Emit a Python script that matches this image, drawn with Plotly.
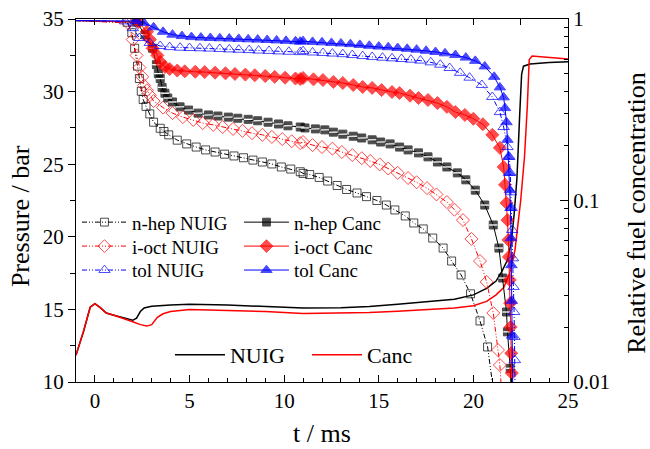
import plotly.graph_objects as go

# ---------------- data ----------------
# Pressure traces (left axis, bar)
P_NUIG_T = [-1.0, -0.6, -0.25, 0.0, 0.3, 0.6, 1.0, 1.5, 2.0, 2.2, 2.4, 2.6, 3.0, 4.0, 5.0, 7.0, 9.0,
            11.0, 13.0, 14.5, 16.0, 18.0, 19.0, 20.0, 20.7, 21.2, 21.5, 21.8, 22.0, 22.15, 22.3,
            22.45, 22.55, 22.65, 23.0, 24.0, 25.0]
P_NUIG = [11.85, 13.5, 15.15, 15.4, 15.1, 14.75, 14.6, 14.45, 14.25, 14.4, 14.85, 15.1, 15.22, 15.3,
          15.35, 15.3, 15.2, 15.1, 15.12, 15.2, 15.35, 15.55, 15.7, 16.0, 16.45, 16.95, 17.6, 18.4,
          19.6, 21.5, 24.0, 28.5, 31.2, 31.75, 31.9, 32.0, 32.05]

P_CANC_T = [-1.0, -0.6, -0.25, 0.0, 0.3, 0.6, 1.0, 1.5, 2.0, 2.4, 2.75, 3.0, 3.3, 3.6, 4.0, 5.0, 7.0,
            9.0, 11.0, 13.0, 14.5, 16.0, 18.0, 19.0, 20.0, 20.7, 21.2, 21.6, 21.9, 22.2, 22.5, 22.7,
            22.85, 22.95, 23.1, 24.0, 25.0]
P_CANC = [11.85, 13.5, 15.15, 15.4, 15.1, 14.75, 14.6, 14.4, 14.15, 13.95, 13.85, 13.95, 14.45, 14.7,
          14.85, 15.0, 14.95, 14.85, 14.72, 14.73, 14.78, 14.88, 15.0, 15.1, 15.25, 15.55, 16.0,
          16.5, 17.4, 19.1, 22.5, 25.5, 29.0, 32.2, 32.45, 32.35, 32.25]

# Relative fuel concentration (right axis, log)
NHEP_NUIG_T = [-1.0, 1.7, 1.95, 2.1, 2.25, 2.35, 2.45, 2.55, 2.7, 2.9, 3.1, 3.45, 3.65, 3.9, 4.35,
               4.85, 5.35, 5.85, 6.35, 6.85, 7.35, 7.85, 8.35, 8.85, 9.35, 9.85, 10.35, 10.85, 11.0,
               11.35, 11.85, 12.3, 12.8, 13.3, 13.85, 14.35, 14.9, 15.4, 15.85, 16.4, 16.85, 17.35,
               17.85, 18.4, 18.85, 19.35, 19.85, 20.35, 20.75, 21.2]
NHEP_NUIG_C = [0.98, 0.96, 0.84, 0.69, 0.55, 0.47, 0.40, 0.36, 0.33, 0.30, 0.27, 0.25, 0.24, 0.23,
               0.215, 0.205, 0.197, 0.19, 0.185, 0.18, 0.176, 0.172, 0.167, 0.163, 0.159, 0.153,
               0.149, 0.144, 0.141, 0.139, 0.134, 0.128, 0.121, 0.115, 0.110, 0.105, 0.100, 0.0944,
               0.0887, 0.0822, 0.0752, 0.0697, 0.0621, 0.0547, 0.0464, 0.0389, 0.0306, 0.0217,
               0.0156, 0.007]

IOCT_NUIG_T = [-1.0, 1.75, 2.0, 2.2, 2.35, 2.5, 2.6, 2.75, 2.9, 3.1, 3.6, 4.1, 4.65, 5.2, 5.7, 6.25,
               6.75, 7.3, 7.8, 8.3, 8.85, 9.35, 9.9, 10.4, 10.85, 11.0, 11.5, 12.0, 12.55, 13.05,
               13.6, 14.1, 14.55, 15.05, 15.5, 16.0, 16.55, 17.0, 17.55, 18.05, 18.6, 19.0, 19.45,
               19.9, 20.35, 20.7, 21.05, 21.3, 21.4, 21.55]
IOCT_NUIG_C = [0.98, 0.95, 0.77, 0.63, 0.54, 0.48, 0.43, 0.405, 0.38, 0.353, 0.325, 0.303, 0.288,
               0.278, 0.267, 0.261, 0.254, 0.248, 0.242, 0.235, 0.230, 0.224, 0.218, 0.212, 0.207,
               0.210, 0.202, 0.197, 0.193, 0.185, 0.178, 0.171, 0.165, 0.158, 0.150, 0.142, 0.133,
               0.126, 0.117, 0.108, 0.098, 0.089, 0.078, 0.0614, 0.0464, 0.0356, 0.024, 0.015,
               0.0124, 0.007]

TOL_NUIG_T = [-1.0, 1.6, 2.0, 2.35, 2.9, 3.45, 3.95, 4.5, 5.0, 5.55, 6.05, 6.6, 7.1, 7.6, 8.15, 8.65,
              9.2, 9.7, 10.25, 10.85, 11.0, 11.5, 12.05, 12.55, 13.1, 13.6, 14.15, 14.65, 15.2, 15.7,
              16.2, 16.7, 17.2, 17.75, 18.25, 18.75, 19.3, 19.8, 20.45, 21.0, 21.4, 21.6, 21.8, 21.9,
              21.95, 21.98, 22.02, 22.05, 22.09, 22.12, 22.15, 22.17, 22.19, 22.22]
TOL_NUIG_C = [0.98, 0.97, 0.89, 0.786, 0.738, 0.71, 0.70, 0.695, 0.692, 0.69, 0.687, 0.684, 0.68,
              0.677, 0.674, 0.67, 0.667, 0.663, 0.66, 0.657, 0.665, 0.654, 0.65, 0.645, 0.64, 0.633,
              0.625, 0.618, 0.612, 0.607, 0.602, 0.597, 0.59, 0.577, 0.56, 0.537, 0.505, 0.475,
              0.433, 0.372, 0.307, 0.254, 0.197, 0.174, 0.142, 0.111, 0.091, 0.0688, 0.048, 0.0334,
              0.0243, 0.0177, 0.0132, 0.006]

NHEP_CANC_T = [-1.0, 2.2, 2.65, 3.05, 3.25, 3.35, 3.45, 3.55, 3.7, 3.85, 4.1, 4.5, 4.95, 5.45, 6.0,
               6.5, 7.05, 7.55, 8.1, 8.6, 9.15, 9.7, 10.2, 10.85, 11.1, 11.65, 12.15, 12.6, 13.1,
               13.65, 14.1, 14.65, 15.1, 15.6, 16.1, 16.55, 17.1, 17.6, 18.1, 18.6, 19.15, 19.6,
               20.1, 20.6, 21.05, 21.35, 21.55, 21.75, 21.8, 21.95, 22.05]
NHEP_CANC_C = [0.98, 0.96, 0.82, 0.69, 0.56, 0.50, 0.47, 0.42, 0.39, 0.367, 0.349, 0.328, 0.315,
               0.303, 0.296, 0.292, 0.288, 0.284, 0.280, 0.275, 0.270, 0.264, 0.258, 0.254, 0.251,
               0.248, 0.245, 0.238, 0.232, 0.226, 0.221, 0.216, 0.210, 0.205, 0.197, 0.190, 0.183,
               0.174, 0.163, 0.153, 0.142, 0.130, 0.114, 0.0944, 0.0733, 0.0547, 0.0374, 0.0243,
               0.0189, 0.0119, 0.006]

IOCT_CANC_T = [-1.0, 2.3, 2.75, 2.9, 3.05, 3.3, 3.45, 3.7, 3.95, 4.35, 4.75, 5.3, 5.8, 6.35, 6.9,
               7.4, 7.95, 8.45, 9.0, 9.5, 10.05, 10.6, 10.85, 11.0, 11.55, 12.05, 12.6, 13.1, 13.65,
               14.15, 14.65, 15.15, 15.7, 16.1, 16.65, 17.1, 17.6, 18.1, 18.6, 19.05, 19.55, 20.0,
               20.5, 21.0, 21.4, 21.6, 21.67, 21.75, 21.8, 21.85, 21.88, 21.92, 21.94, 21.97, 22.0,
               22.03, 22.1]
IOCT_CANC_C = [0.98, 0.96, 0.85, 0.77, 0.69, 0.63, 0.58, 0.544, 0.53, 0.52, 0.515, 0.512, 0.51,
               0.506, 0.502, 0.498, 0.494, 0.49, 0.485, 0.48, 0.475, 0.47, 0.467, 0.473, 0.465,
               0.461, 0.45, 0.444, 0.433, 0.422, 0.417, 0.406, 0.396, 0.391, 0.378, 0.367, 0.358,
               0.344, 0.328, 0.307, 0.296, 0.282, 0.263, 0.23, 0.195, 0.153, 0.122, 0.097, 0.078,
               0.0606, 0.0489, 0.0365, 0.0272, 0.0201, 0.0144, 0.0112, 0.006]

TOL_CANC_T = [-1.0, 2.2, 2.6, 3.1, 3.6, 4.1, 4.6, 5.1, 5.6, 6.1, 6.6, 7.1, 7.6, 8.1, 8.6, 9.1, 9.6,
              10.1, 10.6, 10.85, 11.0, 11.5, 12.0, 12.5, 13.0, 13.5, 14.0, 14.5, 15.0, 15.5, 16.0,
              16.5, 17.0, 17.5, 18.0, 18.5, 19.05, 19.6, 20.1, 20.6, 21.1, 21.4, 21.6, 21.67, 21.75,
              21.8, 21.85, 21.89, 21.93, 21.96, 21.99, 22.01, 22.03, 22.05, 22.1]
TOL_CANC_C = [0.98, 0.975, 0.95, 0.9, 0.85, 0.82, 0.805, 0.795, 0.79, 0.786, 0.783, 0.78, 0.777,
              0.773, 0.77, 0.766, 0.762, 0.758, 0.754, 0.75, 0.755, 0.748, 0.744, 0.738, 0.733,
              0.727, 0.72, 0.712, 0.705, 0.699, 0.692, 0.685, 0.678, 0.668, 0.658, 0.647, 0.633,
              0.613, 0.588, 0.548, 0.48, 0.42, 0.37, 0.323, 0.27, 0.216, 0.174, 0.142, 0.114,
              0.091, 0.062, 0.044, 0.028, 0.018, 0.006]

X_TICKS = [0, 5, 10, 15, 20, 25]
Y_TICKS = [10, 15, 20, 25, 30, 35]
C_TICKS = [0.01, 0.1, 1]
C_TICK_TEXT = ["0.01", "0.1", "1"]
C_MINOR = [0.02, 0.03, 0.04, 0.05, 0.06, 0.07, 0.08, 0.09,
           0.2, 0.3, 0.4, 0.5, 0.6, 0.7, 0.8, 0.9]
X_TITLE = "t / ms"
Y_TITLE = "Pressure / bar"
Y2_TITLE = "Relative fuel concentration"

# ---------------- styling ----------------
FONT = "Liberation Serif, Times New Roman, serif"
BLACK = "#000000"
RED = "#ff0000"
BLUE = "#0000ff"
DASHDOT = "5px,2px,1px,2px,1px,2px"

fig = go.Figure()


def fuel(t, c, name, color, symbol, dash, legend, size=8):
    sizes = [0] + [size] * (len(t) - 1)
    fig.add_trace(go.Scatter(
        x=t, y=c, name=name, mode="lines+markers", xaxis="x", yaxis="y2",
        line=dict(color=color, width=1, dash=dash),
        marker=dict(symbol=symbol, size=sizes, color=color, line=dict(color=color, width=1)),
        legend=legend,
    ))


fuel(NHEP_NUIG_T, NHEP_NUIG_C, "n-hep NUIG", BLACK, "square-open", DASHDOT, "legend", 8)
fuel(NHEP_CANC_T, NHEP_CANC_C, "n-hep Canc", BLACK, "square", "solid", "legend", 8)
# white stripe across the filled squares (half-filled look)
fig.add_trace(go.Scatter(
    x=NHEP_CANC_T[1:], y=NHEP_CANC_C[1:], mode="markers", xaxis="x", yaxis="y2",
    marker=dict(symbol="line-ew", size=6, color="white", line=dict(color="white", width=1.3)),
    showlegend=False, hoverinfo="skip"))
fuel(IOCT_NUIG_T, IOCT_NUIG_C, "i-oct NUIG", RED, "diamond-open", DASHDOT, "legend2", 10)
fuel(IOCT_CANC_T, IOCT_CANC_C, "i-oct Canc", RED, "diamond", "solid", "legend2", 10)
fuel(TOL_NUIG_T, TOL_NUIG_C, "tol NUIG", BLUE, "triangle-up-open", DASHDOT, "legend3", 10)
fuel(TOL_CANC_T, TOL_CANC_C, "tol Canc", BLUE, "triangle-up", "solid", "legend3", 10)

fig.add_trace(go.Scatter(x=P_NUIG_T, y=P_NUIG, name="NUIG", mode="lines",
                         line=dict(color=BLACK, width=1.5), legend="legend4"))
fig.add_trace(go.Scatter(x=P_CANC_T, y=P_CANC, name="Canc", mode="lines",
                         line=dict(color=RED, width=1.5), legend="legend4"))
# empty trace so the top (mirror) axis is drawn
fig.add_trace(go.Scatter(x=[None], y=[None], xaxis="x2", yaxis="y", showlegend=False,
                         hoverinfo="skip"))

axis_common = dict(showline=True, linecolor=BLACK, linewidth=1.3, showgrid=False, zeroline=False,
                   tickcolor=BLACK, tickwidth=1.2, automargin=False)


def leg(x, y, ew, iw, fs):
    return dict(orientation="h", x=x, y=y, xanchor="left", yanchor="middle", xref="paper",
                yref="paper", entrywidth=ew, entrywidthmode="pixels", itemwidth=iw,
                font=dict(family=FONT, size=fs, color=BLACK), bgcolor="rgba(0,0,0,0)",
                borderwidth=0, tracegroupgap=0)


fig.update_layout(
    width=650, height=449,
    margin=dict(l=76, r=82, t=19, b=67, autoexpand=False),
    paper_bgcolor="white", plot_bgcolor="white",
    font=dict(family=FONT, size=21, color=BLACK),
    showlegend=True,
    xaxis=dict(range=[-1, 25], tickvals=X_TICKS, ticks="inside", ticklen=7,
               minor=dict(ticks="inside", dtick=1, tick0=0, ticklen=4, tickcolor=BLACK, tickwidth=1),
               title=dict(text=X_TITLE, font=dict(size=26), standoff=11), **axis_common),
    xaxis2=dict(range=[-1, 25], overlaying="x", side="top", anchor="y", dtick=2.5, tick0=0,
                ticks="inside", ticklen=6, showticklabels=False, **axis_common),
    yaxis=dict(range=[10, 35], tickvals=Y_TICKS, ticks="outside", ticklen=7,
               minor=dict(ticks="outside", dtick=2.5, tick0=10, ticklen=5, tickcolor=BLACK, tickwidth=1),
               **axis_common),
    yaxis2=dict(type="log", range=[-2, 0], overlaying="y", side="right", anchor="x",
                tickvals=C_TICKS, ticktext=C_TICK_TEXT, ticks="inside", ticklen=8,
                minor=dict(ticks="inside", tickvals=C_MINOR, ticklen=4, tickcolor=BLACK, tickwidth=1),
                **axis_common),
    legend=leg(0.002, 0.44, 102, 45, 19),
    legend2=leg(0.002, 0.374, 102, 45, 19),
    legend3=leg(0.002, 0.308, 102, 45, 19),
    legend4=leg(0.191, 0.0744, 72, 50, 22),
    annotations=[
        dict(text=Y_TITLE, textangle=-90, xref="paper", yref="paper", x=-0.1138, y=0.457,
             xanchor="center", yanchor="middle", showarrow=False,
             font=dict(family=FONT, size=26, color=BLACK)),
        dict(text=Y2_TITLE, textangle=-90, xref="paper", yref="paper", x=1.140, y=0.4656,
             xanchor="center", yanchor="middle", showarrow=False,
             font=dict(family=FONT, size=26, color=BLACK)),
    ],
)

fig.write_html("out.html", config={"displayModeBar": False},
               post_script="document.body.style.margin='0px';")
